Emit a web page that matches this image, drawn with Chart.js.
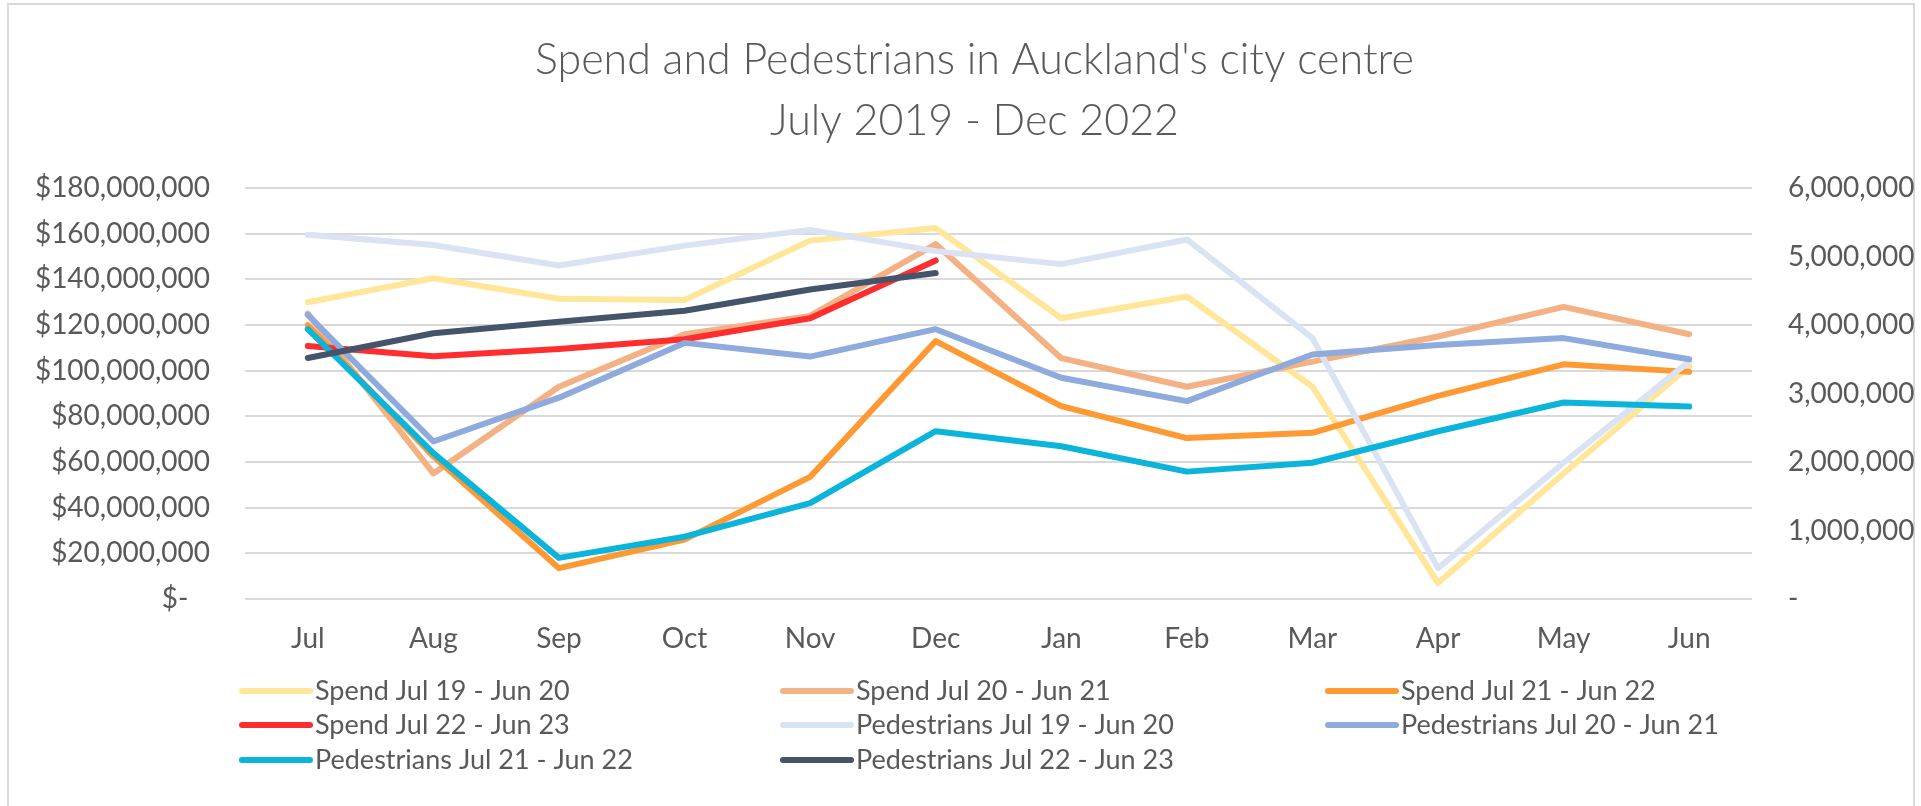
<!DOCTYPE html>
<html>
<head>
<meta charset="utf-8">
<title>Spend and Pedestrians in Auckland's city centre</title>
<script src="https://cdn.jsdelivr.net/npm/chart.js@4.4.1/dist/chart.umd.min.js"></script>
<style>
html, body { margin: 0; padding: 0; background: #fff; }
#wrap { position: relative; width: 1921px; height: 806px; overflow: hidden; }
#frame { position: absolute; left: 7px; top: 3px; width: 1904px; height: 830px; border: 2px solid #d9d9d9; }
#mycanvas { position: absolute; left: 0; top: 0; }
</style>
</head>
<body>
<div id="wrap">
    <div id="frame"></div>
    <canvas id="mycanvas" width="1921" height="806"></canvas>
</div>
<script>
// data
var months = ["Jul", "Aug", "Sep", "Oct", "Nov", "Dec", "Jan", "Feb", "Mar", "Apr", "May", "Jun"];
var titleLines = ["Spend and Pedestrians in Auckland's city centre", "July 2019 - Dec 2022"];

// spend, $ (left axis)
var spend1920 = [130000000, 140500000, 131500000, 131000000, 157000000, 162500000, 123000000, 132500000, 93000000, 7000000, 55000000, 102000000];
var spend2021 = [125000000, 55000000, 93000000, 116000000, 124000000, 155500000, 105500000, 93000000, 104000000, 115000000, 128000000, 116000000];
var spend2122 = [120000000, 62500000, 13500000, 26000000, 53500000, 113000000, 84500000, 70500000, 72800000, 89000000, 102800000, 99500000];
var spend2223 = [110800000, 106300000, 109500000, 113800000, 123000000, 148300000];

// pedestrian counts (right axis)
var peds1920 = [5320000, 5170000, 4870000, 5160000, 5390000, 5080000, 4890000, 5250000, 3810000, 450000, 1990000, 3470000];
var peds2021 = [4150000, 2300000, 2940000, 3740000, 3540000, 3940000, 3230000, 2890000, 3570000, 3710000, 3810000, 3500000];
var peds2122 = [3940000, 2130000, 600000, 910000, 1400000, 2450000, 2230000, 1860000, 1990000, 2450000, 2870000, 2810000];
var peds2223 = [3520000, 3880000, 4050000, 4210000, 4520000, 4760000];

var leftTicks = [0, 180000000, 20000000];
var rightTicks = [0, 6000000, 1000000];

var textColor = "#595959";
var fontName = "Lato";

function series(label, data, color, axis, idx) {
    return {
        label: label,
        data: data,
        yAxisID: axis,
        borderColor: color,
        backgroundColor: color,
        borderWidth: 6,
        borderCapStyle: "round",
        borderJoinStyle: "round",
        pointRadius: 0,
        pointHoverRadius: 0,
        tension: 0,
        fill: false,
        order: 20 - idx
    };
}

// Excel style legend: fixed 3 column grid under the axis
var gridLegend = {
    id: "gridLegend",
    afterDraw: function (chart) {
        var ctx = chart.ctx;
        var cols = [239, 780, 1325];
        var rows = [691, 725, 760];
        chart.data.datasets.forEach(function (ds, i) {
            var x = cols[i % 3];
            var y = rows[Math.floor(i / 3)];
            ctx.save();
            ctx.strokeStyle = ds.borderColor;
            ctx.lineWidth = 6;
            ctx.lineCap = "round";
            ctx.beginPath();
            ctx.moveTo(x + 3, y);
            ctx.lineTo(x + 71, y);
            ctx.stroke();
            ctx.fillStyle = textColor;
            ctx.font = "27px " + fontName;
            ctx.textBaseline = "middle";
            ctx.fillText(ds.label, x + 76, y);
            ctx.restore();
        });
    }
};

function money(v) {
    if (v === 0) return "$-   ";
    return "$" + v.toLocaleString("en-US");
}

function count(v) {
    if (v === 0) return "-";
    return v.toLocaleString("en-US");
}

function draw() {
    var ctx = document.getElementById("mycanvas");
    new Chart(ctx, {
        type: "line",
        data: {
            labels: months,
            datasets: [
                series("Spend Jul 19 - Jun 20", spend1920, "#FFE699", "y", 0),
                series("Spend Jul 20 - Jun 21", spend2021, "#F4B183", "y", 1),
                series("Spend Jul 21 - Jun 22", spend2122, "#FF9933", "y", 2),
                series("Spend Jul 22 - Jun 23", spend2223, "#FF2D2D", "y", 3),
                series("Pedestrians Jul 19 - Jun 20", peds1920, "#DAE3F3", "y2", 4),
                series("Pedestrians Jul 20 - Jun 21", peds2021, "#8FAADC", "y2", 5),
                series("Pedestrians Jul 21 - Jun 22", peds2122, "#0BB4DA", "y2", 6),
                series("Pedestrians Jul 22 - Jun 23", peds2223, "#44546A", "y2", 7)
            ]
        },
        options: {
            responsive: false,
            animation: false,
            layout: { padding: { top: 0, left: 28, right: 0, bottom: 132 } },
            plugins: {
                legend: { display: false },
                tooltip: { enabled: false },
                title: {
                    display: true,
                    text: titleLines,
                    color: textColor,
                    font: { family: fontName, size: 43, weight: "300", lineHeight: 1.42 },
                    padding: { top: 30, bottom: 36 }
                }
            },
            scales: {
                x: {
                    offset: true,
                    grid: { display: false, drawTicks: false },
                    border: { display: false },
                    ticks: { color: textColor, font: { family: fontName, size: 28 }, padding: 23, maxRotation: 0 },
                    afterFit: function (s) { s.height = 75; }
                },
                y: {
                    position: "left",
                    min: leftTicks[0],
                    max: leftTicks[1],
                    grid: { color: "#d9d9d9", lineWidth: 2, drawTicks: false },
                    border: { display: false },
                    ticks: { stepSize: leftTicks[2], color: textColor, font: { family: fontName, size: 28 }, padding: 35, callback: money },
                    afterFit: function (s) { s.width = 217; }
                },
                y2: {
                    position: "right",
                    min: rightTicks[0],
                    max: rightTicks[1],
                    grid: { display: false, drawTicks: false },
                    border: { display: false },
                    ticks: { stepSize: rightTicks[2], color: textColor, font: { family: fontName, size: 28 }, padding: 36, callback: count },
                    afterFit: function (s) { s.width = 169; }
                }
            }
        },
        plugins: [gridLegend]
    });
}

if (document.fonts && document.fonts.load) {
    Promise.all([
        document.fonts.load("28px Lato"),
        document.fonts.load("300 43px Lato")
    ]).then(draw, draw);
} else {
    draw();
}
</script>
</body>
</html>
